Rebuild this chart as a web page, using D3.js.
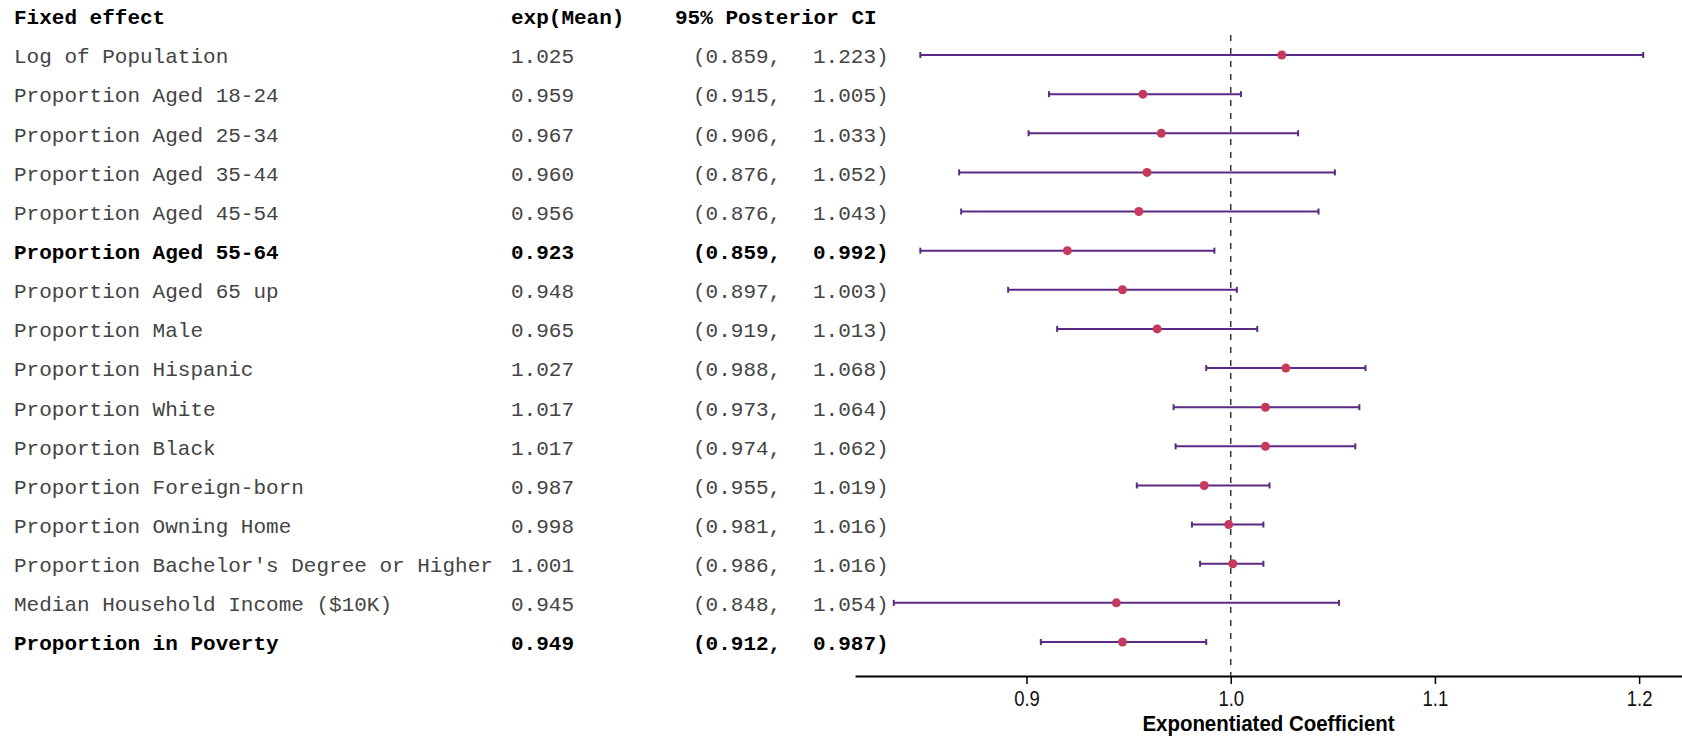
<!DOCTYPE html>
<html>
<head>
<meta charset="utf-8">
<script src="https://cdn.jsdelivr.net/npm/d3@7"></script>
<style>
  body { margin: 0; background: #fff; }
  svg { display: block; }
</style>
</head>
<body>
<div id="forest"></div>
<script>
// Table content
var effects = [
  "Log of Population",
  "Proportion Aged 18-24",
  "Proportion Aged 25-34",
  "Proportion Aged 35-44",
  "Proportion Aged 45-54",
  "Proportion Aged 55-64",
  "Proportion Aged 65 up",
  "Proportion Male",
  "Proportion Hispanic",
  "Proportion White",
  "Proportion Black",
  "Proportion Foreign-born",
  "Proportion Owning Home",
  "Proportion Bachelor's Degree or Higher",
  "Median Household Income ($10K)",
  "Proportion in Poverty"
];
var tableMean = [1.025, 0.959, 0.967, 0.960, 0.956, 0.923, 0.948, 0.965, 1.027, 1.017, 1.017, 0.987, 0.998, 1.001, 0.945, 0.949];
var tableLow  = [0.859, 0.915, 0.906, 0.876, 0.876, 0.859, 0.897, 0.919, 0.988, 0.973, 0.974, 0.955, 0.981, 0.986, 0.848, 0.912];
var tableHigh = [1.223, 1.005, 1.033, 1.052, 1.043, 0.992, 1.003, 1.013, 1.068, 1.064, 1.062, 1.019, 1.016, 1.016, 1.054, 0.987];

// Plotted intervals (as drawn in the figure)
var plotMean = [1.025, 0.957, 0.966, 0.959, 0.955, 0.920, 0.947, 0.964, 1.027, 1.017, 1.017, 0.987, 0.999, 1.001, 0.944, 0.947];
var plotLow  = [0.848, 0.911, 0.901, 0.867, 0.868, 0.848, 0.891, 0.915, 0.988, 0.972, 0.973, 0.954, 0.981, 0.985, 0.835, 0.907];
var plotHigh = [1.202, 1.005, 1.033, 1.051, 1.043, 0.992, 1.003, 1.013, 1.066, 1.063, 1.061, 1.019, 1.016, 1.016, 1.053, 0.988];

var headers = ["Fixed effect", "exp(Mean)", "95% Posterior CI"];
var xTicks = [0.9, 1.0, 1.1, 1.2];
var xTitle = "Exponentiated Coefficient";

var svgWidth = 1682;
var svgHeight = 736;

var svg = d3.select("#forest")
  .append("svg")
  .attr("width", svgWidth)
  .attr("height", svgHeight);

var rows = effects.map(function(name, i) {
  return {
    name: name,
    mean: tableMean[i], low: tableLow[i], high: tableHigh[i],
    pMean: plotMean[i], pLow: plotLow[i], pHigh: plotHigh[i],
    sig: tableHigh[i] < 1 || tableLow[i] > 1
  };
});

// Scales
var y = d3.scalePoint()
  .domain(effects)
  .range([55, 642]);
var rowStep = y.step();

var x = d3.scaleLinear()
  .domain([0.816, 1.221])
  .range([855, 1682]);

var fmt = d3.format(".3f");
var mono = "'Liberation Mono', 'Courier New', monospace";
var sans = "'Liberation Sans Narrow', 'Arial Narrow', 'Liberation Sans', Arial, sans-serif";

// Columns
var colX = { label: 14, mean: 511, ciLow: 693, ciHigh: 813, ciHead: 675 };
var baseShift = 8.3;

// Header
var headY = y(effects[0]) - rowStep + baseShift;
[[headers[0], colX.label], [headers[1], colX.mean], [headers[2], colX.ciHead]].forEach(function(h) {
  svg.append("text")
    .attr("x", h[1])
    .attr("y", headY)
    .attr("font-family", mono)
    .attr("font-size", 21)
    .attr("font-weight", "bold")
    .attr("fill", "#000")
    .style("white-space", "pre")
    .text(h[0]);
});

var tableG = svg.append("g");
var rowG = tableG.selectAll("g.row").data(rows).enter()
  .append("g")
  .attr("class", "row")
  .attr("font-family", mono)
  .attr("font-size", 21)
  .attr("font-weight", d => d.sig ? "bold" : "normal")
  .attr("fill", d => d.sig ? "#000" : "#444");

rowG.append("text")
  .attr("x", colX.label)
  .attr("y", d => y(d.name) + baseShift)
  .text(d => d.name);

rowG.append("text")
  .attr("x", colX.mean)
  .attr("y", d => y(d.name) + baseShift)
  .text(d => fmt(d.mean));

rowG.append("text")
  .attr("x", colX.ciLow)
  .attr("y", d => y(d.name) + baseShift)
  .text(d => "(" + fmt(d.low) + ",");

rowG.append("text")
  .attr("x", colX.ciHigh)
  .attr("y", d => y(d.name) + baseShift)
  .text(d => fmt(d.high) + ")");

// Axis
var axisY = 676;
var axisG = svg.append("g")
  .attr("transform", `translate(0, ${axisY})`)
  .call(d3.axisBottom(x)
    .tickValues(xTicks)
    .tickFormat(d3.format(".1f"))
    .tickSize(8)
    .tickSizeOuter(0));

axisG.select(".domain")
  .attr("stroke", "#000")
  .attr("stroke-width", 2);
axisG.selectAll(".tick line")
  .attr("stroke", "#000")
  .attr("stroke-width", 1.5);
// narrow look for tick labels
axisG.selectAll(".tick text")
  .attr("y", null)
  .attr("dy", null)
  .attr("transform", "translate(0, 30) scale(0.84, 1)")
  .attr("fill", "#111")
  .attr("font-family", sans)
  .attr("font-size", 22);

svg.append("text")
  .attr("transform", `translate(${(x.range()[0] + x.range()[1]) / 2}, 730.5) scale(0.93, 1)`)
  .attr("text-anchor", "middle")
  .attr("font-family", sans)
  .attr("font-size", 22)
  .attr("font-weight", "bold")
  .attr("fill", "#000")
  .text(xTitle);

// Reference line at 1
svg.append("line")
  .attr("x1", x(1)).attr("x2", x(1))
  .attr("y1", 35).attr("y2", axisY)
  .attr("stroke", "#333")
  .attr("stroke-width", 1.5)
  .attr("stroke-dasharray", "6,7");

// Intervals
var barColor = "#5b2a84";
var capH = 3;
var bars = svg.append("g").selectAll("g").data(rows).enter().append("g");

bars.append("line")
  .attr("x1", d => x(d.pLow)).attr("x2", d => x(d.pHigh))
  .attr("y1", d => y(d.name)).attr("y2", d => y(d.name))
  .attr("stroke", barColor)
  .attr("stroke-width", 2);

bars.append("line")
  .attr("x1", d => x(d.pLow)).attr("x2", d => x(d.pLow))
  .attr("y1", d => y(d.name) - capH).attr("y2", d => y(d.name) + capH)
  .attr("stroke", barColor)
  .attr("stroke-width", 2);

bars.append("line")
  .attr("x1", d => x(d.pHigh)).attr("x2", d => x(d.pHigh))
  .attr("y1", d => y(d.name) - capH).attr("y2", d => y(d.name) + capH)
  .attr("stroke", barColor)
  .attr("stroke-width", 2);

bars.append("circle")
  .attr("cx", d => x(d.pMean))
  .attr("cy", d => y(d.name))
  .attr("r", 4.5)
  .attr("fill", "#c6395b");
</script>
</body>
</html>
